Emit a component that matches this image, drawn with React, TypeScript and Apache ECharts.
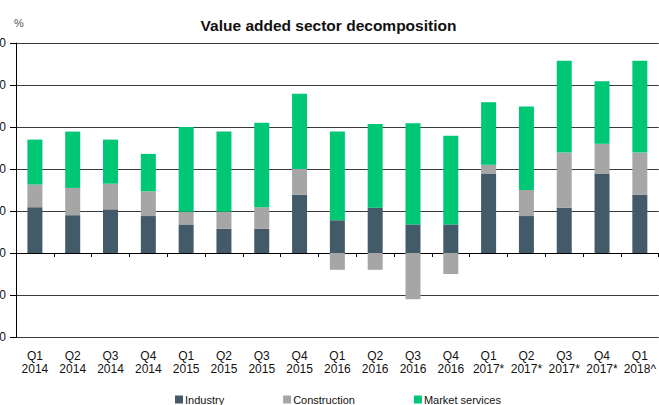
import React, { useEffect, useRef } from "react";
import * as echarts from "echarts";

const categories = [
  "Q1\n2014", "Q2\n2014", "Q3\n2014", "Q4\n2014",
  "Q1\n2015", "Q2\n2015", "Q3\n2015", "Q4\n2015",
  "Q1\n2016", "Q2\n2016", "Q3\n2016", "Q4\n2016",
  "Q1\n2017*", "Q2\n2017*", "Q3\n2017*", "Q4\n2017*",
  "Q1\n2018^",
];
const industry = [1.09, 0.9, 1.04, 0.88, 0.68, 0.58, 0.58, 1.39, 0.78, 1.08, 0.68, 0.68, 1.89, 0.88, 1.08, 1.89, 1.39];
const construction = [0.54, 0.65, 0.61, 0.59, 0.3, 0.4, 0.51, 0.61, -0.4, -0.4, -1.1, -0.5, 0.21, 0.62, 1.31, 0.71, 1.0];
const marketServices = [1.07, 1.34, 1.05, 0.89, 2.02, 1.91, 2.01, 1.79, 2.11, 1.99, 2.41, 2.11, 1.49, 1.99, 2.19, 1.49, 2.19];
const yMin = -2;
const yMax = 5;
const yStep = 1;

const OFF = 40;
const FONT = "'Liberation Sans', Arial, sans-serif";

export default function App() {
  const ref = useRef<HTMLDivElement>(null);
  useEffect(() => {
    if (!ref.current) return;
    const chart = echarts.init(ref.current, null, { renderer: "svg" });
    chart.setOption({
      animation: false,
      textStyle: { fontFamily: FONT },
      title: {
        text: "Value added sector decomposition",
        left: 328.5 + OFF,
        textAlign: "center",
        top: 17,
        padding: 0,
        textStyle: { fontFamily: FONT, fontSize: 15.5, fontWeight: "bold", color: "#111" },
      },
      graphic: [
        {
          type: "text",
          left: 14 + OFF,
          top: 17,
          style: { text: "%", fontFamily: FONT, fontSize: 11, fill: "#555" },
        },
      ],
      legend: {
        left: 175 + OFF,
        top: 394,
        padding: 0,
        itemWidth: 8,
        itemHeight: 8,
        itemGap: 59,
        icon: "rect",
        textStyle: { fontFamily: FONT, fontSize: 11, color: "#111", padding: [0, 0, 0, -3] },
        data: ["Industry", "Construction", "Market services"],
      },
      grid: { left: 16 + OFF, right: 0, top: 43, bottom: 68, containLabel: false },
      xAxis: [
        {
          type: "category",
          data: categories,
          position: "bottom",
          axisLine: { show: false, onZero: false },
          axisTick: { show: false },
          axisLabel: {
            interval: 0,
            margin: 12,
            fontFamily: FONT,
            fontSize: 12,
            lineHeight: 13,
            color: "#111",
          },
        },
        {
          type: "category",
          data: categories,
          position: "top",
          axisLine: { show: true, onZero: true, lineStyle: { color: "#000", width: 1 } },
          axisTick: { show: true, inside: true, length: 4, interval: 0, lineStyle: { color: "#000" } },
          axisLabel: { show: false },
        },
      ],
      yAxis: {
        type: "value",
        min: yMin,
        max: yMax,
        interval: yStep,
        axisLine: { show: true, onZero: false, lineStyle: { color: "#000", width: 1 } },
        axisTick: { show: true, length: 6, lineStyle: { color: "#000" } },
        axisLabel: {
          margin: 10,
          fontFamily: FONT,
          fontSize: 12,
          color: "#111",
          formatter: (v: number) => v.toFixed(1),
        },
        splitLine: { show: true, lineStyle: { color: "#3a3a3a", width: 1 } },
      },
      series: [
        { name: "Industry", type: "bar", stack: "total", barWidth: 15, data: industry, itemStyle: { color: "#435a68" } },
        { name: "Construction", type: "bar", stack: "total", barWidth: 15, data: construction, itemStyle: { color: "#a6a6a6" } },
        { name: "Market services", type: "bar", stack: "total", barWidth: 15, data: marketServices, itemStyle: { color: "#00c776" } },
      ],
    });
    return () => chart.dispose();
  }, []);
  return (
    <div
      ref={ref}
      style={{ position: "absolute", left: -OFF, top: 0, width: 659 + OFF, height: 405 }}
    />
  );
}
